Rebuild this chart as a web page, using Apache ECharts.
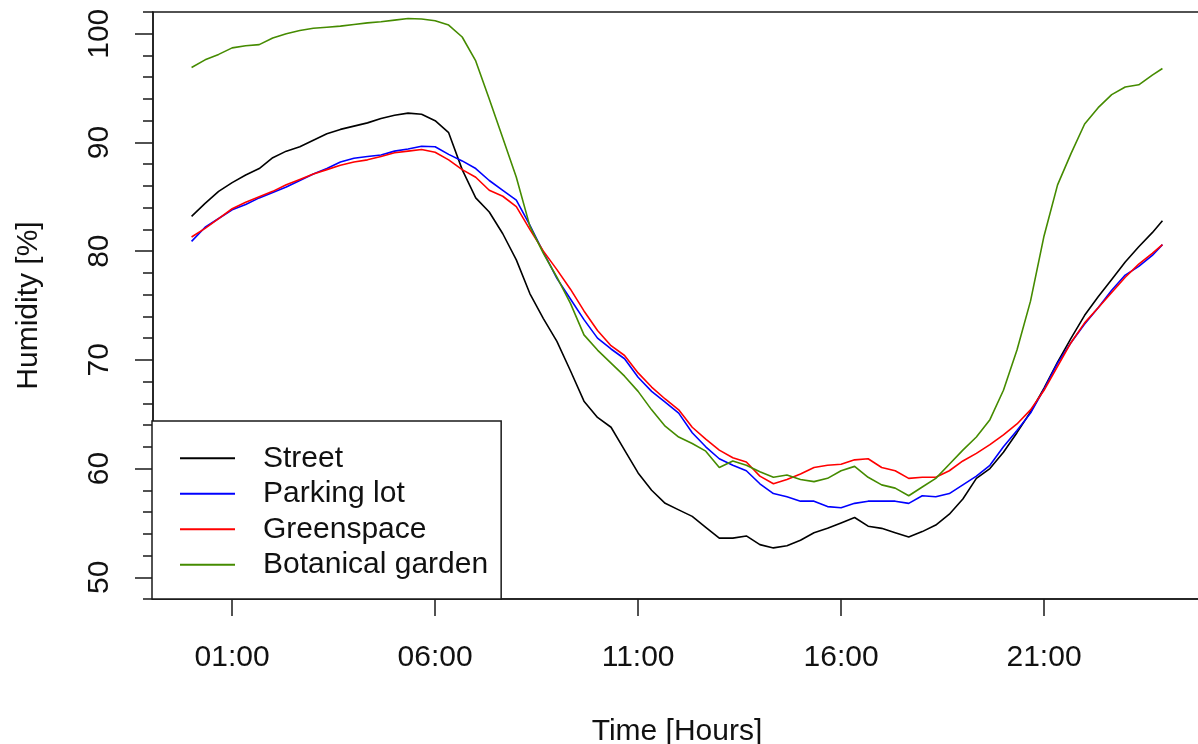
<!DOCTYPE html>
<html><head><meta charset="utf-8">
<script src="https://cdn.jsdelivr.net/npm/echarts@6/dist/echarts.min.js"></script>
<style>html,body{margin:0;padding:0;background:#fff}#c{width:1198px;height:744px}</style>
</head><body><div id="c"></div>
<script>
const times = ['00:00','00:20','00:40','01:00','01:20','01:40','02:00','02:20','02:40','03:00','03:20','03:40',
'04:00','04:20','04:40','05:00','05:20','05:40','06:00','06:20','06:40','07:00','07:20','07:40',
'08:00','08:20','08:40','09:00','09:20','09:40','10:00','10:20','10:40','11:00','11:20','11:40',
'12:00','12:20','12:40','13:00','13:20','13:40','14:00','14:20','14:40','15:00','15:20','15:40',
'16:00','16:20','16:40','17:00','17:20','17:40','18:00','18:20','18:40','19:00','19:20','19:40',
'20:00','20:20','20:40','21:00','21:20','21:40','22:00','22:20','22:40','23:00','23:20','23:40','23:55'];

const street = [83.2,84.4,85.5,86.3,87.0,87.6,88.6,89.2,89.6,90.2,90.8,91.2,
91.5,91.8,92.2,92.5,92.7,92.6,92.0,90.9,87.5,84.9,83.6,81.6,
79.2,76.1,73.8,71.7,69.0,66.2,64.7,63.8,61.7,59.6,58.0,56.8,
56.2,55.6,54.6,53.6,53.6,53.8,53.0,52.7,52.9,53.4,54.1,54.5,
55.0,55.5,54.7,54.5,54.1,53.7,54.2,54.8,55.8,57.2,59.1,60.0,
61.5,63.3,65.2,67.4,69.8,72.0,74.1,75.8,77.4,79.0,80.4,81.7,82.8];

const parkingLot = [80.9,82.2,83.0,83.8,84.3,84.9,85.4,85.9,86.5,87.1,87.6,88.2,
88.55,88.7,88.85,89.2,89.4,89.65,89.6,88.9,88.3,87.6,86.5,85.6,
84.7,82.4,79.9,77.5,75.6,73.7,72.0,71.0,70.1,68.4,67.1,66.1,
65.1,63.3,62.0,60.9,60.3,59.8,58.6,57.7,57.4,57.0,57.0,56.5,
56.4,56.8,57.0,57.0,57.0,56.8,57.5,57.4,57.7,58.5,59.3,60.3,
62.0,63.5,65.1,67.3,69.7,71.6,73.3,74.8,76.4,77.8,78.6,79.6,80.6];

const greenspace = [81.3,82.1,83.0,83.9,84.5,85.0,85.5,86.1,86.6,87.1,87.5,87.9,
88.2,88.4,88.7,89.05,89.2,89.35,89.1,88.4,87.5,86.8,85.6,85.05,
84.1,82.0,80.0,78.3,76.5,74.5,72.7,71.3,70.4,68.8,67.5,66.4,
65.4,63.8,62.7,61.7,61.0,60.6,59.3,58.6,59.0,59.5,60.1,60.3,
60.4,60.8,60.9,60.1,59.8,59.1,59.2,59.2,59.8,60.7,61.4,62.2,
63.1,64.1,65.4,67.2,69.4,71.6,73.4,74.8,76.2,77.6,78.8,79.8,80.6];

const botanicalGarden = [96.9,97.6,98.1,98.7,98.9,99.0,99.6,100.0,100.3,100.5,100.6,100.7,
100.85,101.0,101.1,101.25,101.4,101.35,101.2,100.8,99.7,97.5,94.0,90.4,
86.8,82.3,79.8,77.6,75.2,72.3,70.9,69.7,68.5,67.1,65.4,63.9,
62.9,62.3,61.6,60.1,60.7,60.3,59.7,59.2,59.4,59.0,58.8,59.1,
59.8,60.2,59.2,58.5,58.2,57.5,58.3,59.1,60.4,61.7,62.9,64.5,
67.2,70.9,75.4,81.4,86.1,89.0,91.7,93.2,94.4,95.1,95.3,96.2,96.8];

const seriesNames = ['Street','Parking lot','Greenspace','Botanical garden'];
const seriesColors = ['#000000','#0000FF','#FF0000','#458B00'];
const xTickLabels = ['01:00','06:00','11:00','16:00','21:00'];
const yTickLabels = [50,60,70,80,90,100];

const toMin = t => parseInt(t.slice(0,2),10)*60 + parseInt(t.slice(3),10);
const xTickValues = xTickLabels.map(toMin);
const allSeries = [street, parkingLot, greenspace, botanicalGarden];
const FONT = '"Liberation Sans", Arial, sans-serif';

const chart = echarts.init(document.getElementById('c'), null, {renderer:'canvas'});
chart.setOption({
  animation: false,
  backgroundColor: '#ffffff',
  grid: {left:153, top:12, width:1048, height:587, containLabel:false, outerBoundsMode:'none',
    show:true, borderColor:'#1a1a1a', borderWidth:1.5, backgroundColor:'transparent'},
  xAxis: {
    type:'value', min:-57, max:1492,
    axisLine:{show:true, onZero:false, lineStyle:{color:'#1a1a1a', width:1.5}},
    axisTick:{show:true, customValues:xTickValues, length:17, lineStyle:{color:'#1a1a1a', width:1.5}},
    axisLabel:{show:true, customValues:xTickValues, margin:44, fontSize:30, fontFamily:FONT, color:'#111',
      formatter: v => xTickLabels[xTickValues.indexOf(v)] || ''},
    splitLine:{show:false},
    name:'Time [Hours]', nameLocation:'middle', nameGap:118,
    nameTextStyle:{fontSize:30, fontFamily:FONT, color:'#111'}
  },
  yAxis: [{
    type:'value', min:48, max:102, interval:2, position:'left',
    axisLine:{show:true, onZero:false, lineStyle:{color:'#1a1a1a', width:1.5}},
    axisTick:{show:true, length:10, lineStyle:{color:'#1a1a1a', width:1.5}},
    axisLabel:{show:true, customValues:yTickLabels, rotate:90, margin:38, fontSize:30, fontFamily:FONT, color:'#111'},
    splitLine:{show:false},
    name:'Humidity [%]', nameLocation:'middle', nameGap:109, nameRotate:90,
    nameTextStyle:{fontSize:30, fontFamily:FONT, color:'#111'}
  },{
    type:'value', min:48, max:102, position:'left',
    axisLine:{show:false, onZero:false},
    axisTick:{show:true, customValues:yTickLabels, length:18, lineStyle:{color:'#1a1a1a', width:1.5}},
    axisLabel:{show:false},
    splitLine:{show:false}
  }],
  legend: {
    left:152, top:421, orient:'vertical', selectedMode:false,
    data: seriesNames.map(n => ({name:n, icon:'rect'})),
    itemWidth:55, itemHeight:2, itemGap:0,
    padding:[19.5,13,16.5,28],
    backgroundColor:'#ffffff', borderColor:'#1a1a1a', borderWidth:1.5, borderRadius:0,
    textStyle:{fontSize:30, fontFamily:FONT, color:'#111', lineHeight:35.5, padding:[0,0,0,23]}
  },
  series: allSeries.map((arr, k) => ({
    name: seriesNames[k], type:'line', yAxisIndex:0,
    showSymbol:false, symbol:'none',
    color: seriesColors[k],
    itemStyle:{color: seriesColors[k]},
    lineStyle:{color: seriesColors[k], width:1.6},
    data: times.map((t, i) => [toMin(t), arr[i]])
  }))
});
</script>
</body></html>
